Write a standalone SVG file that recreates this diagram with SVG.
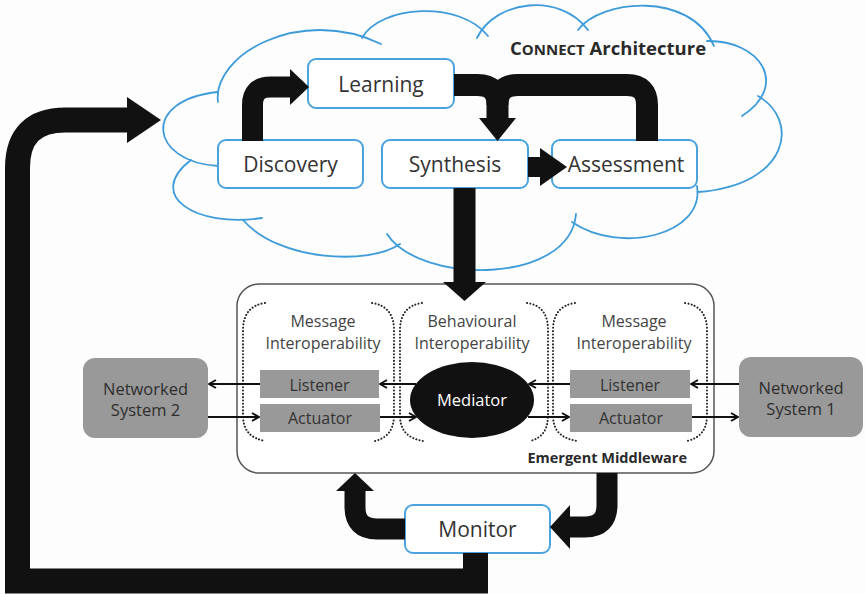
<svg xmlns="http://www.w3.org/2000/svg" width="865" height="594" viewBox="0 0 865 594">
<defs>
<style>
.cloud{fill:none;stroke:#3d9bd9;stroke-width:1.8;stroke-linecap:round}
.node rect.b{fill:#fff;stroke:#4aa3df;stroke-width:2}
.lbl{font-family:"Open Sans","Liberation Sans",sans-serif;fill:#333;text-anchor:middle}
.big{font-size:21px}
.sm{font-size:16px}
.sec{font-size:16px;fill:#444}
.gray{fill:#999}
.dot{fill:none;stroke:#222;stroke-width:2;stroke-dasharray:0.1 3.2;stroke-linecap:round}
.thick{fill:none;stroke:#111}
.thin{fill:none;stroke:#111;stroke-width:2;marker-end:url(#ah)}
</style>
<marker id="ah" viewBox="0 0 10 10" refX="9" refY="5" markerWidth="10" markerHeight="10" markerUnits="userSpaceOnUse" orient="auto">
<path d="M2,1 L9,5 L2,9" fill="none" stroke="#111" stroke-width="2"/>
</marker>
</defs>
<rect width="865" height="594" fill="#fdfdfe"/>

<g id="cloud">
<path class="cloud" d="M218,102 C212,55 300,5 381,44"/>
<path class="cloud" d="M362,38 C380,5 460,0 488,36"/>
<path class="cloud" d="M477,38 C495,0 560,-8 588,30"/>
<path class="cloud" d="M578,30 C600,0 690,-10 714,46"/>
<path class="cloud" d="M707,41 C760,40 790,85 742,116"/>
<path class="cloud" d="M758,96 C800,120 790,185 698,192"/>
<path class="cloud" d="M697,186 C705,235 620,255 572,222"/>
<path class="cloud" d="M576,214 C570,285 420,285 387,234"/>
<path class="cloud" d="M400,244 C370,265 280,262 243,220"/>
<path class="cloud" d="M262,218 C195,228 145,195 191,160"/>
<path class="cloud" d="M218,166 C150,162 140,100 218,92"/>
<text class="lbl" x="510" y="55" style="text-anchor:start;font-weight:bold;fill:#2a2a2a;font-size:18.5px">C<tspan font-size="15px">ONNECT</tspan> Architecture</text>
</g>

<g id="middleware">
<rect x="237" y="284" width="477" height="189" rx="22" fill="#fff" stroke="#555" stroke-width="1.5"/>
<path class="dot" d="M265,303 C250,305 243,315 243,330 V415 C243,430 250,438 265,441"/>
<path class="dot" d="M372,303 C387,305 394,315 394,330 V415 C394,430 387,438 375,441"/>
<path class="dot" d="M422,303 C407,305 400,315 400,330 V415 C400,430 407,438 423,441"/>
<path class="dot" d="M527,303 C542,305 548,315 548,330 V415 C548,430 542,438 530,441"/>
<path class="dot" d="M575,303 C560,305 553,315 553,330 V415 C553,430 560,438 577,441"/>
<path class="dot" d="M685,303 C700,305 707,315 707,330 V415 C707,430 700,438 687,441"/>
<text class="lbl sec" x="323" y="327">Message</text>
<text class="lbl sec" x="323" y="349">Interoperability</text>
<text class="lbl sec" x="472" y="327">Behavioural</text>
<text class="lbl sec" x="472" y="349">Interoperability</text>
<text class="lbl sec" x="634" y="327">Message</text>
<text class="lbl sec" x="634" y="349">Interoperability</text>
<text class="lbl" x="687" y="463" style="text-anchor:end;font-weight:bold;font-size:14.5px;fill:#2a2a2a">Emergent Middleware</text>
</g>

<g id="listener-left" class="node"><rect class="gray" x="260" y="370" width="119" height="28"/><text class="lbl sm" x="319.5" y="391">Listener</text></g>
<g id="actuator-left" class="node"><rect class="gray" x="260" y="404" width="120" height="28"/><text class="lbl sm" x="320" y="424">Actuator</text></g>
<g id="listener-right" class="node"><rect class="gray" x="570" y="370" width="120" height="28"/><text class="lbl sm" x="630" y="391">Listener</text></g>
<g id="actuator-right" class="node"><rect class="gray" x="570" y="404" width="122" height="28"/><text class="lbl sm" x="631" y="424">Actuator</text></g>
<g id="mediator" class="node"><ellipse cx="472" cy="400" rx="62" ry="38" fill="#111"/><text class="lbl" x="472" y="406" style="fill:#fff;font-size:16.5px">Mediator</text></g>
<g id="ns2" class="node"><rect class="gray" x="83" y="358" width="125" height="80" rx="12"/><text class="lbl" x="145.5" y="395" style="font-size:16.5px;fill:#2e2e2e">Networked</text><text class="lbl" x="145.5" y="416" style="font-size:16.5px;fill:#2e2e2e">System 2</text></g>
<g id="ns1" class="node"><rect class="gray" x="739" y="357" width="124" height="80" rx="12"/><text class="lbl" x="801" y="394" style="font-size:16.5px;fill:#2e2e2e">Networked</text><text class="lbl" x="801" y="415" style="font-size:16.5px;fill:#2e2e2e">System 1</text></g>

<g id="learning" class="node"><rect class="b" x="308" y="59" width="146" height="49" rx="8"/><text class="lbl big" x="381" y="92">Learning</text></g>
<g id="discovery" class="node"><rect class="b" x="218" y="140" width="145" height="48" rx="8"/><text class="lbl big" x="290.5" y="172">Discovery</text></g>
<g id="synthesis" class="node"><rect class="b" x="382" y="140" width="146" height="48" rx="8"/><text class="lbl big" x="455" y="172">Synthesis</text></g>
<g id="assessment" class="node"><rect class="b" x="552" y="140" width="145" height="48" rx="8"/><text class="lbl big" x="626" y="172">Assessment</text></g>
<g id="monitor" class="node"><rect class="b" x="405" y="505" width="145" height="48" rx="8"/><text class="lbl big" x="477.5" y="537">Monitor</text></g>

<g id="connectors">
<path class="thick" stroke-width="21" d="M252.5,141 V105 Q252.5,87 270.5,87 H292"/>
<polygon fill="#111" points="290,69 309,87 290,105"/>
<path class="thick" stroke-width="22" d="M454,85 H477.5 Q497.5,85 497.5,105 V121"/>
<path class="thick" stroke-width="22" d="M647,141 V105 Q647,85 627,85 H518 Q497.5,85 497.5,105"/>
<polygon fill="#111" points="479,118 497.5,141 516,118"/>
<path class="thick" stroke-width="20" d="M528,167 H543"/>
<polygon fill="#111" points="540,148 567,167 540,186"/>
<path class="thick" stroke-width="22" d="M464.5,188 V284"/>
<polygon fill="#111" points="443,282 464.5,301 486,282"/>
<path class="thick" stroke-width="21" d="M607,473 V505 Q607,527 585,527 H568"/>
<polygon fill="#111" points="570,505 550,527 570,549"/>
<path class="thick" stroke-width="21" d="M405,529 H377 Q355,529 355,507 V489"/>
<polygon fill="#111" points="336,491 355,473 374,491"/>
<path class="thick" stroke-width="25" stroke-linejoin="miter" d="M475.5,553 V581 H17.5 V168 Q17.5,120 65.5,120 H130"/>
<polygon fill="#111" points="127,97 161,120 127,143"/>
<path class="thin" d="M260,384 H209"/>
<path class="thin" d="M208,417 H259"/>
<path class="thin" d="M416,384 H380"/>
<path class="thin" d="M380,417 H416"/>
<path class="thin" d="M570,384 H529"/>
<path class="thin" d="M528,417 H569"/>
<path class="thin" d="M739,384 H691"/>
<path class="thin" d="M692,417 H738"/>
</g>
</svg>
